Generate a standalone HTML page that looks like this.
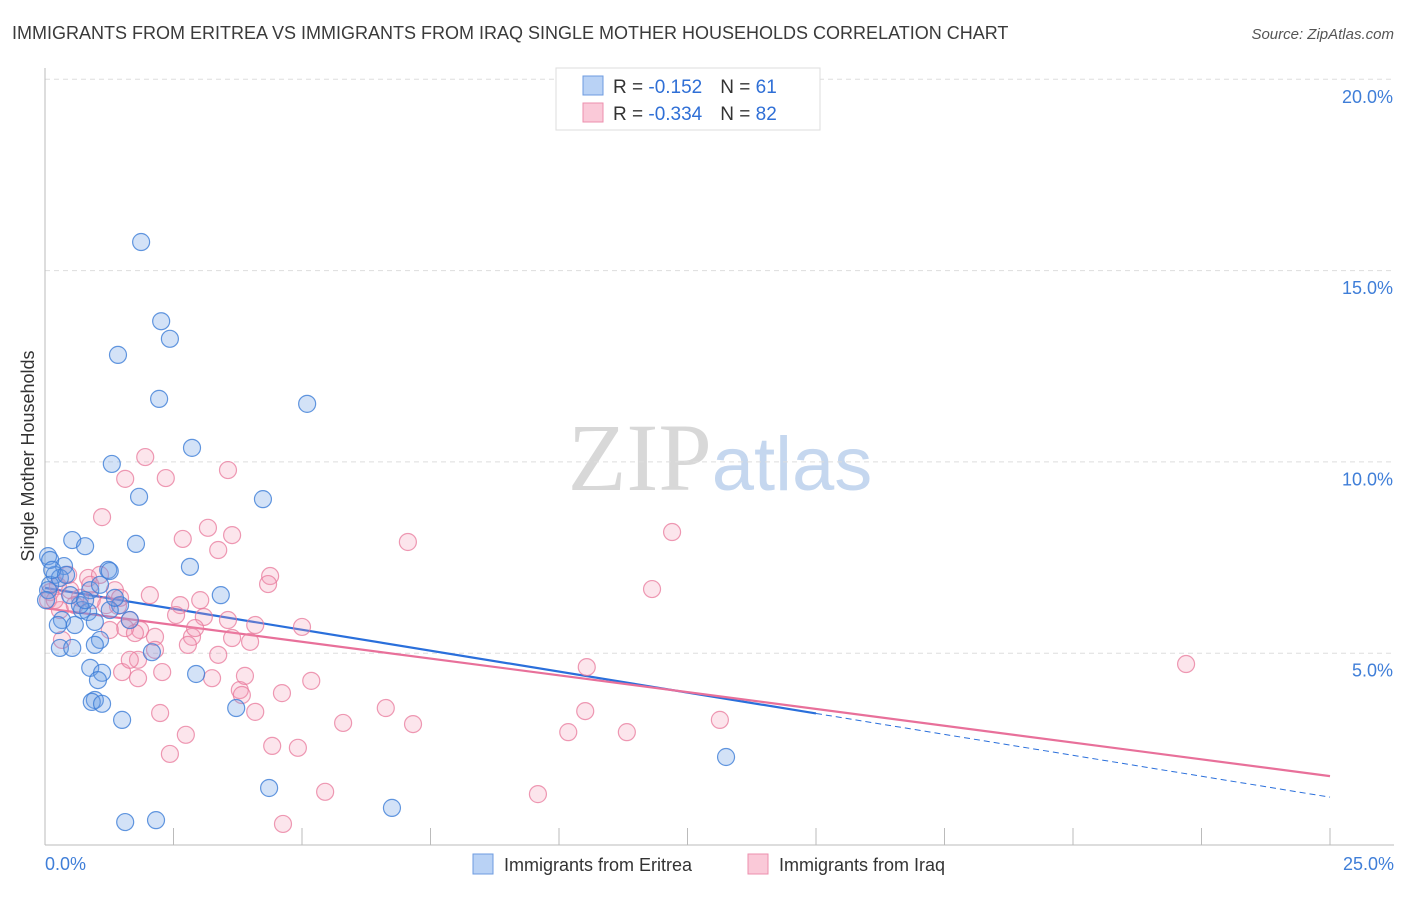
<!DOCTYPE html>
<html><head><meta charset="utf-8"><style>
body{margin:0;background:#fff;font-family:"Liberation Sans",sans-serif;}
svg text{font-family:"Liberation Sans",sans-serif;}
</style></head><body>
<svg id="chart" width="1406" height="892" xmlns="http://www.w3.org/2000/svg">
<text x="12" y="39" font-size="18" fill="#3a3a3a">IMMIGRANTS FROM ERITREA VS IMMIGRANTS FROM IRAQ SINGLE MOTHER HOUSEHOLDS CORRELATION CHART</text>
<text x="1394" y="39" font-size="15" fill="#555" text-anchor="end" font-style="italic">Source: ZipAtlas.com</text>
<text x="720" y="490" font-size="96" text-anchor="middle"><tspan fill="#d8d8d8" font-family="Liberation Serif">ZIP</tspan><tspan fill="#c5d7ef" font-size="76">atlas</tspan></text>
<g id="grid"></g>
<g id="axes"></g>
<g id="trend"></g>
<g id="pts"></g>
<text transform="translate(34,456) rotate(-90)" font-size="18" fill="#333" text-anchor="middle">Single Mother Households</text>
<g>
<rect x="556" y="68" width="264" height="62" fill="#fff" stroke="#ddd"/>
<rect x="583" y="76" width="20" height="19" fill="#b9d2f5" stroke="#6d9be0"/>
<rect x="583" y="103" width="20" height="19" fill="#fac9d8" stroke="#ec8fae"/>
<text x="613" y="93" font-size="19" fill="#333">R = <tspan fill="#2f6fd6"> -0.152</tspan><tspan dx="18">N = </tspan><tspan fill="#2f6fd6"> 61</tspan></text>
<text x="613" y="120" font-size="19" fill="#333">R = <tspan fill="#2f6fd6">-0.334</tspan><tspan dx="18">N = </tspan><tspan fill="#2f6fd6">82</tspan></text>
</g>
<g>
<rect x="473" y="854" width="20" height="20" fill="#b9d2f5" stroke="#6d9be0"/>
<text x="504" y="871" font-size="18" fill="#333">Immigrants from Eritrea</text></g>
<g>
<rect x="748" y="854" width="20" height="20" fill="#fac9d8" stroke="#ec8fae"/>
<text x="779" y="871" font-size="18" fill="#333">Immigrants from Iraq</text></g>
</svg>
<script>
const yTicks=[5,10,15,20];
const yTickLabels=["5.0%","10.0%","15.0%","20.0%"];
const xTickLabels=["0.0%","25.0%"];
const eritreaX=[1.87,2.26,2.43,1.42,2.22,5.10,2.86,1.30,1.83,4.24,0.53,0.78,0.06,1.77,0.37,1.23,1.26,2.82,3.42,0.19,0.10,0.29,0.88,1.07,0.72,0.84,1.46,1.65,0.33,0.25,0.58,0.97,1.07,0.97,0.29,0.53,2.08,0.88,1.11,1.03,2.94,0.97,0.91,1.11,1.50,3.72,13.25,4.36,6.75,1.56,2.16,0.10,0.14,0.06,0.41,0.68,1.26,0.49,0.78,0.02,1.36];
const eritreaY=[15.76,13.69,13.23,12.81,11.66,11.53,10.38,9.96,9.10,9.04,7.97,7.81,7.55,7.87,7.29,7.19,7.16,7.27,6.53,7.06,6.80,6.98,6.66,6.80,6.14,6.09,6.27,5.88,5.88,5.75,5.75,5.83,5.36,5.23,5.15,5.15,5.04,4.63,4.50,4.31,4.47,3.79,3.74,3.69,3.27,3.58,2.30,1.49,0.97,0.60,0.65,7.45,7.19,6.66,7.06,6.27,6.14,6.53,6.40,6.40,6.46];
const iraqX=[1.95,2.35,1.56,3.56,1.11,3.17,2.68,3.64,3.37,7.06,12.20,11.81,22.20,10.54,4.38,4.34,2.04,2.63,3.09,2.55,3.56,4.09,5.00,1.85,2.14,1.65,1.42,1.19,0.91,0.68,0.49,0.25,0.10,0.06,0.29,0.58,0.84,1.07,0.45,1.36,1.56,1.75,2.86,2.92,2.78,3.37,3.64,3.99,2.14,1.81,1.50,1.81,2.28,3.25,3.79,3.89,3.83,4.61,5.18,4.09,2.24,2.74,2.43,4.42,4.92,5.80,6.63,7.16,10.18,10.51,11.32,13.13,5.45,9.59,4.63,0.33,0.88,1.26,0.19,1.65,3.02,1.46];
const iraqY=[10.14,9.59,9.57,9.80,8.57,8.29,8.00,8.10,7.71,7.92,8.18,6.69,4.73,4.65,7.03,6.82,6.53,6.27,5.96,6.01,5.88,5.75,5.70,5.62,5.44,5.88,6.25,6.27,6.40,6.46,6.66,6.77,6.61,6.40,6.14,6.27,6.98,7.06,7.06,6.66,5.67,5.54,5.44,5.67,5.23,4.97,5.41,5.31,5.10,4.84,4.52,4.36,4.52,4.36,4.05,4.42,3.92,3.97,4.29,3.48,3.45,2.88,2.38,2.59,2.54,3.19,3.58,3.16,2.95,3.50,2.95,3.27,1.39,1.33,0.55,5.36,6.80,5.62,6.40,4.84,6.40,6.46];
const eritreaTrend=[6.72,1.25];
const iraqTrend=[6.19,1.80];
const NS="http://www.w3.org/2000/svg";
const X0=45,X1=1330,Y0=845,PX=38.26;
function sx(v){return X0+(X1-X0)*v/25;}
function sy(v){return Y0-v*PX;}
function mk(tag,attrs,parent){const e=document.createElementNS(NS,tag);for(const k in attrs)e.setAttribute(k,attrs[k]);parent.appendChild(e);return e;}
const grid=document.getElementById('grid'),axes=document.getElementById('axes');
yTicks.forEach((t,i)=>{
 const l=mk('line',{x1:X0,x2:1394,y1:sy(t)-0.5,y2:sy(t)-0.5,stroke:'#ddd','stroke-dasharray':'5,4'},grid);
 
 
 const tx=mk('text',{x:1393,y:sy(t)+23,'font-size':18,fill:'#3f7ed8','text-anchor':'end'},axes);
 tx.textContent=yTickLabels[i];
 
 
});
const ax=mk('line',{x1:X0,x2:X0,y1:68,y2:Y0,stroke:'#bbb'},axes);


const bx=mk('line',{x1:X0,x2:1394,y1:Y0,y2:Y0,stroke:'#bbb'},axes);


for(let i=0;i<=10;i++){const t=mk('line',{x1:sx(i*2.5),x2:sx(i*2.5),y1:Y0,y2:Y0-17,stroke:'#bbb'},axes);
 
 }
[[0,'start',45],[25,'end',1394]].forEach((d,i)=>{const t=mk('text',{x:d[2],y:870,'font-size':18,fill:'#3f7ed8','text-anchor':d[1]},axes);t.textContent=xTickLabels[i];
 
 });
const pts=document.getElementById('pts');
function drawPts(xs,ys,fill,stroke,name){xs.forEach((x,i)=>{const c=mk('circle',{cx:sx(x),cy:sy(ys[i]),r:8.5,fill:fill,stroke:stroke,'stroke-width':1.2},pts);
 
 });}
drawPts(iraqX,iraqY,'rgba(245,150,180,0.25)','rgba(232,120,155,0.75)','iraq-point');
drawPts(eritreaX,eritreaY,'rgba(110,160,230,0.3)','rgba(60,125,215,0.8)','eritrea-point');
const tr=document.getElementById('trend');
function ty(tr0,x){return tr0[0]+(tr0[1]-tr0[0])*x/25;}
const b1=mk('line',{x1:sx(0),y1:sy(ty(eritreaTrend,0)),x2:sx(15),y2:sy(ty(eritreaTrend,15)),stroke:'#2a6fdb','stroke-width':2.2},tr);


const b2=mk('line',{x1:sx(15),y1:sy(ty(eritreaTrend,15)),x2:sx(25),y2:sy(ty(eritreaTrend,25)),stroke:'#2a6fdb','stroke-width':1,'stroke-dasharray':'6,4'},tr);


const p1=mk('line',{x1:sx(0),y1:sy(ty(iraqTrend,0)),x2:sx(25),y2:sy(ty(iraqTrend,25)),stroke:'#e8709a','stroke-width':2.2},tr);


</script>
</body></html>
